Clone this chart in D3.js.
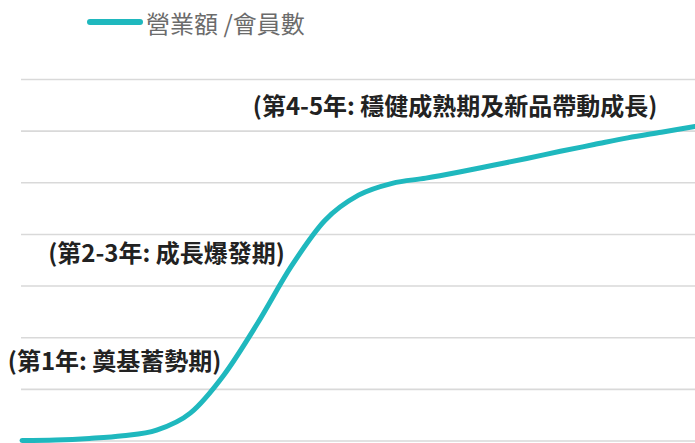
<!DOCTYPE html>
<html><head><meta charset="utf-8">
<script src="https://cdn.jsdelivr.net/npm/d3@7/dist/d3.min.js"></script>
<style>
html,body{margin:0;padding:0;background:#fff;}
svg{display:block;}
</style></head>
<body><svg id="chart" width="695" height="443"></svg>
<script>
// Data
const steps = [0,1,2,3,4,5,6,7,8,9,10,11,12,13,14,15,16,17,18,19,20];
const revenueValues = [0.01,0.02,0.05,0.10,0.21,0.54,1.28,2.28,3.38,4.27,4.76,4.99,5.09,5.21,5.34,5.47,5.61,5.74,5.87,5.98,6.09];
const gridTicks = [0,1,2,3,4,5,6,7];
const seriesName = "營業額 /會員數";
const annotations = [
  {text:"(第1年: 奠基蓄勢期)", step:-0.42, value:1.58},
  {text:"(第2-3年: 成長爆發期)", step:0.78, value:3.67},
  {text:"(第4-5年: 穩健成熟期及新品帶動成長)", step:6.86, value:6.52}
];

const svg = d3.select("#chart");
const W = 695, H = 443;
const x = d3.scaleLinear().domain([0,20]).range([22,695]);
const y = d3.scaleLinear().domain([0,7]).range([441,79.5]);

// gridlines
svg.append("g").selectAll("line").data(gridTicks).join("line")
  .attr("x1",21).attr("x2",W)
  .attr("y1",d=>y(d)).attr("y2",d=>y(d))
  .attr("stroke","#d9d9d9").attr("stroke-width",1.6);

// line
const line = d3.line().x((d,i)=>x(steps[i])).y(d=>y(d)).curve(d3.curveMonotoneX);
svg.append("path").datum(revenueValues)
  .attr("d",line).attr("fill","none")
  .attr("stroke","#1fb8be").attr("stroke-width",5)
  .attr("stroke-linecap","round").attr("stroke-linejoin","round");

// annotations
svg.append("g").selectAll("text").data(annotations).join("text")
  .attr("x",d=>x(d.step)).attr("y",d=>y(d.value))
  .attr("dominant-baseline","central")
  .attr("font-family","'Noto Sans CJK TC','Noto Sans',sans-serif")
  .attr("font-weight","bold").attr("font-size",24)
  .attr("fill","#222")
  .text(d=>d.text);

// legend
const lg = svg.append("g");
lg.append("line").attr("x1",90).attr("x2",140).attr("y1",22).attr("y2",22)
  .attr("stroke","#1fb8be").attr("stroke-width",6).attr("stroke-linecap","round");
lg.append("text").attr("x",146).attr("y",22).attr("dominant-baseline","central")
  .attr("font-family","'Noto Sans CJK TC','Noto Sans',sans-serif")
  .attr("font-size",24).attr("fill","#6b6b6b").text(seriesName);
</script>
</body></html>
